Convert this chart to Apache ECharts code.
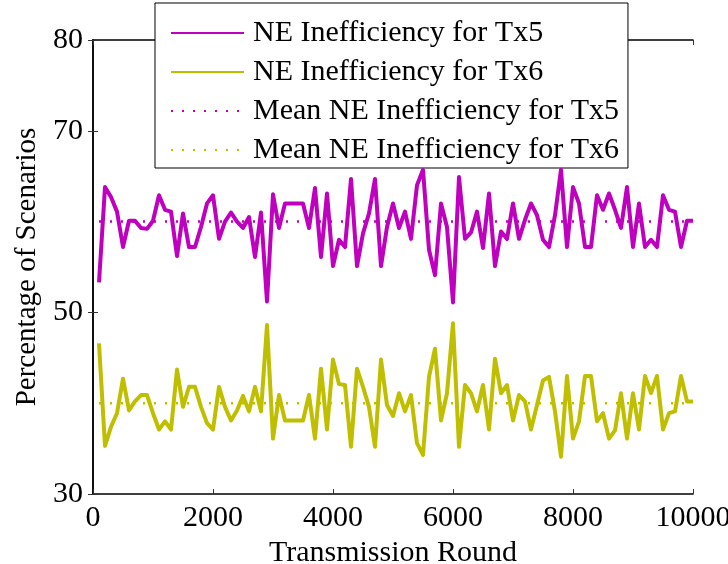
<!DOCTYPE html>
<html><head><meta charset="utf-8">
<script src="https://cdn.jsdelivr.net/npm/echarts@6/dist/echarts.min.js"></script>
<style>html,body{margin:0;padding:0;background:#fff}#c{width:728px;height:564px}</style>
</head><body><div id="c"></div>
<script>
const rounds = [100,200,300,400,500,600,700,800,900,1000,1100,1200,1300,1400,1500,1600,1700,1800,1900,2000,
2100,2200,2300,2400,2500,2600,2700,2800,2900,3000,3100,3200,3300,3400,3500,3600,3700,3800,3900,4000,
4100,4200,4300,4400,4500,4600,4700,4800,4900,5000,5100,5200,5300,5400,5500,5600,5700,5800,5900,6000,
6100,6200,6300,6400,6500,6600,6700,6800,6900,7000,7100,7200,7300,7400,7500,7600,7700,7800,7900,8000,
8100,8200,8300,8400,8500,8600,8700,8800,8900,9000,9100,9200,9300,9400,9500,9600,9700,9800,9900,10000];
const tx5 = [53.3,63.8,62.7,61.1,57.2,60.1,60.1,59.3,59.2,60.1,62.9,61.3,61.1,56.2,60.9,57.2,57.2,59.4,62.0,62.9,
58.1,60.0,61.0,60.0,59.3,60.5,56.1,61.0,51.2,63.0,59.3,62.0,62.0,62.0,62.0,59.3,63.7,56.1,63.1,55.1,
58.0,57.2,64.7,55.1,58.7,60.9,64.7,55.1,59.4,62.0,59.3,61.1,58.1,64.0,65.7,56.9,54.1,62.0,59.4,51.1,
64.9,58.1,58.8,61.1,57.1,63.1,55.1,58.9,58.1,62.0,58.1,60.2,62.0,60.7,58.0,57.2,60.7,65.7,57.2,63.8,
62.0,57.2,57.2,62.9,61.3,63.1,61.3,59.3,63.8,57.2,62.0,57.2,58.0,57.2,62.9,61.3,61.1,57.2,60.1,60.1];
const tx6 = [46.6,35.3,37.4,38.9,42.7,39.2,40.2,40.9,40.9,38.9,37.1,38.0,37.1,43.7,39.6,41.8,41.8,39.6,37.8,37.1,
41.8,39.6,38.1,39.2,40.8,39.1,41.8,39.1,48.6,36.1,40.9,38.1,38.1,38.1,38.1,40.9,36.1,43.8,37.1,44.8,
42.1,42.0,35.2,43.8,41.8,39.6,35.2,44.8,39.8,38.6,41.1,39.1,40.9,35.6,34.3,42.9,46.0,38.1,41.1,48.8,
35.2,42.0,41.1,39.1,42.0,37.1,44.9,41.1,42.0,38.1,40.9,40.2,37.1,39.8,42.5,42.9,39.1,34.1,43.0,36.1,
38.0,43.0,43.0,38.0,38.9,36.1,37.0,41.1,36.1,41.1,37.1,43.0,41.1,43.0,37.1,38.9,39.1,43.0,40.2,40.2];
const meanRounds = [100, 10000];
const meanTx5 = [60, 60];
const meanTx6 = [40, 40];
const yTickValues = [30, 50, 70, 80];
const seriesNames = ['NE Inefficiency for Tx5','NE Inefficiency for Tx6','Mean NE Inefficiency for Tx5','Mean NE Inefficiency for Tx6'];

const MAG = '#bf00bf', YEL = '#bfbf00';
const FONT = 'Liberation Serif';
const FS = 30;
const zip = (xs, ys) => xs.map((x, i) => [x, ys[i]]);

const chart = echarts.init(document.getElementById('c'), null, {renderer: 'canvas'});
const axisLine = {show: true, lineStyle: {color: '#000', width: 1.5}};
const tick = {show: true, inside: true, length: 5, lineStyle: {color: '#333', width: 1}};
chart.setOption({
  animation: false,
  backgroundColor: '#fff',
  grid: {left: 93, right: 35, top: 40, bottom: 70, containLabel: false, outerBoundsMode: 'none'},
  legend: {
    orient: 'vertical', left: 155, top: 3,
    padding: [15, 9, 3, 15],
    itemWidth: 73, itemHeight: 14, itemGap: 9,
    backgroundColor: '#fff', borderColor: '#000', borderWidth: 1,
    itemStyle: {color: 'rgba(0,0,0,0)', borderWidth: 0, opacity: 0},
    textStyle: {fontFamily: FONT, fontSize: FS, color: '#000', lineHeight: 27, padding: [0, 0, 0, 4]},
    data: seriesNames
  },
  xAxis: [
    {type: 'value', min: 0, max: 10000, interval: 2000, position: 'bottom',
     name: 'Transmission Round', nameLocation: 'middle', nameGap: 37,
     nameTextStyle: {fontFamily: FONT, fontSize: FS, color: '#000'},
     axisLine, axisTick: tick, splitLine: {show: false},
     axisLabel: {fontFamily: FONT, fontSize: FS, color: '#000', margin: 9, formatter: v => String(v)}},
    {type: 'value', min: 0, max: 10000, interval: 2000, position: 'top',
     axisLine, axisTick: tick, splitLine: {show: false}, axisLabel: {show: false}}
  ],
  yAxis: [
    {type: 'value', min: 30, max: 80, interval: 10, position: 'left',
     name: 'Percentage of Scenarios', nameLocation: 'middle', nameGap: 50,
     nameTextStyle: {fontFamily: FONT, fontSize: 29, color: '#000'},
     axisLine, splitLine: {show: false},
     axisTick: Object.assign({}, tick, {customValues: yTickValues}),
     axisLabel: {fontFamily: FONT, fontSize: FS, color: '#000', margin: 10, customValues: yTickValues}},
    {type: 'value', min: 30, max: 80, interval: 10, position: 'right',
     axisLine, splitLine: {show: false},
     axisTick: Object.assign({}, tick, {customValues: yTickValues}),
     axisLabel: {show: false}}
  ],
  series: [
    {name: seriesNames[0], type: 'line', data: zip(rounds, tx5), symbol: 'none', z: 5,
     lineStyle: {color: MAG, width: 4, join: 'round'}, itemStyle: {color: MAG}},
    {name: seriesNames[1], type: 'line', data: zip(rounds, tx6), symbol: 'none', z: 5,
     lineStyle: {color: YEL, width: 4, join: 'round'}, itemStyle: {color: YEL}},
    {name: seriesNames[2], type: 'line', data: zip(meanRounds, meanTx5), symbol: 'none', z: 3,
     lineStyle: {color: MAG, width: 2.5, type: [2, 9], cap: 'butt'}, itemStyle: {color: MAG}},
    {name: seriesNames[3], type: 'line', data: zip(meanRounds, meanTx6), symbol: 'none', z: 3,
     lineStyle: {color: YEL, width: 2.5, type: [2, 9], cap: 'butt'}, itemStyle: {color: YEL}}
  ]
});
</script></body></html>
